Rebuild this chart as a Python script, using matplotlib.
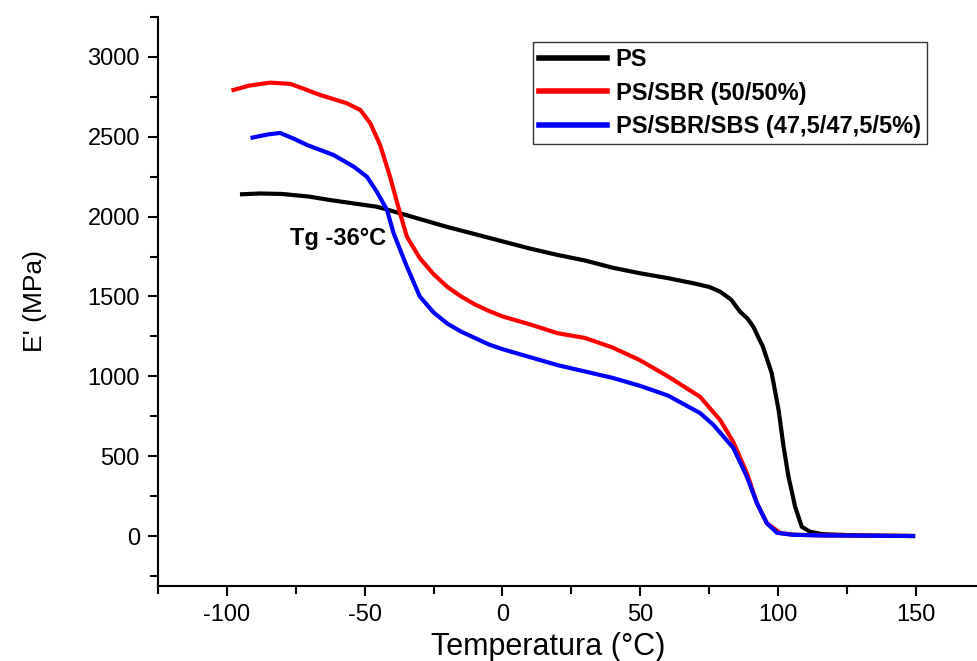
import matplotlib
matplotlib.use('Agg')
import matplotlib.pyplot as plt
from matplotlib.ticker import MultipleLocator

plt.rcParams['font.family'] = ['Liberation Sans', 'DejaVu Sans']
plt.rcParams['axes.unicode_minus'] = False

# --- data (temperature in C, E' in MPa)
ps_t = [-94.5, -88, -80, -70, -62.6, -55, -45.6, -40, -30, -20, -11.7, 0, 10, 20, 30, 40, 50,
        60, 70, 75, 79, 83, 86.2, 89, 91, 94.5, 97.7, 100.2, 102, 103.8, 106.2, 108.6, 111.6,
        116, 125, 135, 149]
ps_e = [2140, 2145, 2142, 2125, 2104, 2085, 2062, 2035, 1985, 1935, 1898, 1845, 1800, 1760,
        1725, 1680, 1645, 1615, 1580, 1560, 1530, 1480, 1405, 1360, 1311, 1186, 1020, 789,
        560, 371, 184, 58, 27, 12, 6, 3, 0]

sbr_t = [-97.6, -92, -84.3, -77, -72, -66.2, -56.5, -51.6, -48, -44.4, -40.8, -37.2, -34.7,
         -30, -25, -20, -15, -10, -5, 0, 10, 20, 30, 40, 50, 60, 71.7, 79, 83.7, 88.7, 92.3,
         95.9, 100.8, 106, 115, 130, 149]
sbr_e = [2793, 2820, 2839, 2831, 2800, 2762, 2710, 2668, 2586, 2449, 2250, 2023, 1875,
         1740, 1640, 1560, 1500, 1450, 1410, 1375, 1325, 1270, 1240, 1180, 1100, 1000, 872,
         726, 591, 394, 207, 81, 19, 8, 4, 2, 0]

sbs_t = [-90.7, -85, -80.7, -76, -71, -61.3, -54, -49.2, -45.6, -41.9, -39.5, -35, -30, -25,
         -20, -15, -10, -5, 0, 10, 20, 30, 40, 50, 60, 71.7, 76.6, 83.8, 88.7, 92.3, 95.9,
         99.6, 105, 115, 130, 149]
sbs_e = [2495, 2515, 2524, 2490, 2449, 2386, 2313, 2250, 2156, 2042, 1896, 1700, 1500, 1400,
         1330, 1280, 1240, 1200, 1170, 1120, 1070, 1030, 990, 940, 880, 770, 695, 551, 371,
         207, 81, 20, 8, 4, 2, 0]

labels = ['PS', 'PS/SBR (50/50%)', 'PS/SBR/SBS (47,5/47,5/5%)']

fig = plt.figure(figsize=(9.77, 6.61), dpi=100)
ax = fig.add_axes([158 / 977, 75 / 661, 819 / 977, 569 / 661])

ax.plot(ps_t, ps_e, color='black', lw=3, label=labels[0])
ax.plot(sbr_t, sbr_e, color='red', lw=3, label=labels[1])
ax.plot(sbs_t, sbs_e, color='blue', lw=3, label=labels[2])

ax.set_xlim(-125, 172.2)
ax.set_ylim(-313, 3250)
ax.xaxis.set_major_locator(MultipleLocator(50))
ax.xaxis.set_minor_locator(MultipleLocator(25))
ax.yaxis.set_major_locator(MultipleLocator(500))
ax.yaxis.set_minor_locator(MultipleLocator(250))

for s in ['top', 'right']:
    ax.spines[s].set_visible(False)
for s in ['left', 'bottom']:
    ax.spines[s].set_linewidth(1.5)

ax.tick_params(which='major', direction='out', length=7, width=1.5, labelsize=17, pad=6)
ax.tick_params(which='minor', direction='out', length=6, width=1.5)

ax.set_xlabel('Temperatura (°C)', fontsize=22)
ax.xaxis.set_label_coords(0.476, -0.08)
ax.set_ylabel("E' (MPa)", fontsize=19)
ax.yaxis.set_label_coords(-0.135, 0.5)

ax.text(-77, 1866, 'Tg -36°C', fontsize=17, fontweight='bold', ha='left', va='center')

leg = ax.legend(loc='upper left', bbox_to_anchor=(0.458, 0.956),
                prop={'weight': 'bold', 'size': 17}, frameon=True, fancybox=False,
                edgecolor='black', handlelength=2.9, handletextpad=0.35,
                borderpad=0.25, borderaxespad=0, labelspacing=0.45)
leg.get_frame().set_linewidth(1.0)
for h in leg.get_lines():
    h.set_linewidth(4)

fig.savefig('out.png', dpi=100)
